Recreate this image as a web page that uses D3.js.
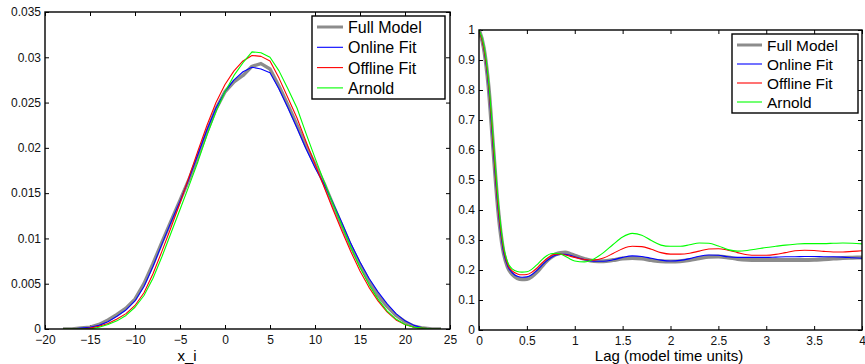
<!DOCTYPE html>
<html lang="en">
<head>
<meta charset="UTF-8">
<title>Density and autocorrelation</title>
<script src="https://d3js.org/d3.v7.min.js"></script>
<style>
  body { margin: 0; background: #fff; }
  svg { display: block; }
  svg text { font-family: "Liberation Sans", Arial, sans-serif; }
  .tick line { stroke: #000; stroke-width: 1; }
  .tick text { fill: #111; font-size: 12px; }
</style>
</head>
<body>
<div id="chart"></div>
<script>
// ---- data: left panel (density of x_i) ----
const xVals = [-18,-17,-16,-15,-14,-13,-12,-11,-10,-9,-8,-7,-6,-5,-4,-3,-2,-1,0,1,2,3,4,5,6,7,8,9,10,11,12,13,14,15,16,17,18,19,20,21,22,23,24];
const pdfFull    = [0,0,0.0001,0.0002,0.0005,0.0010,0.0016,0.0023,0.0033,0.0050,0.0072,0.0096,0.0119,0.0142,0.0165,0.0191,0.0218,0.0243,0.0262,0.0273,0.0280,0.0290,0.0293,0.0287,0.0268,0.0247,0.0225,0.0202,0.0182,0.0161,0.0137,0.0114,0.0091,0.0071,0.0053,0.0037,0.0025,0.0015,0.0008,0.0003,0.0001,0,0];
const pdfOnline  = [0,0,0.0001,0.0002,0.0004,0.0008,0.0014,0.0021,0.0031,0.0047,0.0069,0.0094,0.0118,0.0141,0.0166,0.0193,0.0220,0.0244,0.0262,0.0275,0.0284,0.0289,0.0287,0.0283,0.0265,0.0244,0.0222,0.0199,0.0178,0.0160,0.0139,0.0117,0.0094,0.0074,0.0056,0.0041,0.0028,0.0017,0.0009,0.0004,0.0001,0,0];
const pdfOffline = [0,0,0,0.0001,0.0003,0.0006,0.0011,0.0017,0.0026,0.0040,0.0061,0.0086,0.0112,0.0139,0.0168,0.0197,0.0225,0.0250,0.0270,0.0285,0.0296,0.0302,0.0301,0.0296,0.0277,0.0255,0.0233,0.0207,0.0182,0.0157,0.0132,0.0108,0.0085,0.0064,0.0046,0.0031,0.0019,0.0010,0.0005,0.0002,0.0001,0,0];
const pdfArnold  = [0,0,0,0,0.0002,0.0005,0.0009,0.0015,0.0024,0.0037,0.0056,0.0080,0.0106,0.0132,0.0158,0.0185,0.0214,0.0240,0.0262,0.0280,0.0294,0.0306,0.0305,0.0300,0.0285,0.0265,0.0244,0.0216,0.0189,0.0163,0.0138,0.0114,0.0090,0.0068,0.0049,0.0033,0.0020,0.0011,0.0005,0.0002,0.0001,0,0];
const xTicks = [-20,-15,-10,-5,0,5,10,15,20,25];
const pdfTicks = [0,0.005,0.01,0.015,0.02,0.025,0.03,0.035];

// ---- data: right panel (autocorrelation vs lag) ----
const lags = [0,0.05,0.1,0.15,0.2,0.25,0.3,0.35,0.4,0.45,0.5,0.55,0.6,0.65,0.7,0.75,0.8,0.85,0.9,0.95,1.0,1.1,1.2,1.3,1.4,1.5,1.6,1.7,1.8,1.9,2.0,2.1,2.2,2.3,2.4,2.5,2.6,2.7,2.8,2.9,3.0,3.1,3.2,3.3,3.4,3.5,3.6,3.7,3.8,3.9,4.0];
const acfFull    = [1,0.94,0.81,0.60,0.40,0.27,0.21,0.185,0.173,0.169,0.170,0.178,0.192,0.210,0.228,0.242,0.252,0.257,0.258,0.254,0.248,0.237,0.230,0.229,0.233,0.238,0.240,0.238,0.233,0.229,0.228,0.229,0.233,0.239,0.244,0.245,0.242,0.237,0.234,0.233,0.233,0.233,0.233,0.233,0.233,0.234,0.236,0.238,0.240,0.241,0.242];
const acfOnline  = [1,0.94,0.81,0.60,0.40,0.27,0.212,0.19,0.179,0.176,0.177,0.184,0.197,0.213,0.229,0.241,0.249,0.252,0.252,0.249,0.244,0.235,0.229,0.229,0.234,0.242,0.247,0.245,0.239,0.233,0.230,0.232,0.238,0.246,0.250,0.249,0.244,0.242,0.242,0.242,0.242,0.243,0.244,0.244,0.245,0.245,0.244,0.244,0.243,0.241,0.239];
const acfOffline = [1,0.94,0.82,0.61,0.41,0.28,0.218,0.196,0.187,0.184,0.185,0.192,0.205,0.221,0.236,0.247,0.253,0.253,0.250,0.246,0.242,0.235,0.233,0.240,0.255,0.271,0.279,0.278,0.269,0.258,0.253,0.253,0.256,0.263,0.270,0.271,0.266,0.258,0.251,0.249,0.249,0.252,0.258,0.264,0.266,0.265,0.262,0.260,0.260,0.262,0.264];
const acfArnold  = [1,0.95,0.83,0.63,0.43,0.29,0.225,0.203,0.195,0.193,0.194,0.202,0.216,0.232,0.246,0.254,0.256,0.253,0.246,0.237,0.230,0.227,0.237,0.258,0.285,0.310,0.322,0.316,0.298,0.283,0.279,0.279,0.284,0.290,0.289,0.280,0.268,0.263,0.265,0.270,0.275,0.279,0.283,0.286,0.288,0.288,0.288,0.289,0.290,0.289,0.287];
const lagTicks = [0,0.5,1,1.5,2,2.5,3,3.5,4];
const acfTicks = [0,0.1,0.2,0.3,0.4,0.5,0.6,0.7,0.8,0.9,1];

const names = ["Full Model", "Online Fit", "Offline Fit", "Arnold"];
const colors = ["#8c8c8c", "#0000ff", "#ff0000", "#00ff00"];
const widths = [3.5, 1.1, 1.1, 1.1];

const svg = d3.select("#chart").append("svg")
    .attr("width", 865)
    .attr("height", 364);

function drawPanel(opts) {
    const x = d3.scaleLinear().domain(opts.xDomain).range([opts.left, opts.right]);
    const y = d3.scaleLinear().domain(opts.yDomain).range([opts.bottom, opts.top]);
    const g = svg.append("g");

    g.append("rect")
        .attr("x", opts.left).attr("y", opts.top)
        .attr("width", opts.right - opts.left).attr("height", opts.bottom - opts.top)
        .attr("fill", "#fff");

    // ticks pointing inward on all four sides
    const tidy = a => a.attr("font-family", null).attr("font-size", null).select(".domain").remove();
    g.append("g").attr("transform", `translate(0,${opts.bottom})`)
        .call(d3.axisBottom(x).tickValues(opts.xTicks).tickFormat(opts.xFmt).tickSize(-4).tickPadding(6))
        .call(tidy);
    g.append("g").attr("transform", `translate(${opts.left},0)`)
        .call(d3.axisLeft(y).tickValues(opts.yTicks).tickFormat(opts.fmt).tickSize(-4).tickPadding(4))
        .call(tidy);
    g.append("g").attr("transform", `translate(0,${opts.top})`)
        .call(d3.axisTop(x).tickValues(opts.xTicks).tickFormat("").tickSize(-4))
        .call(tidy);
    g.append("g").attr("transform", `translate(${opts.right},0)`)
        .call(d3.axisRight(y).tickValues(opts.yTicks).tickFormat("").tickSize(-4))
        .call(tidy);

    const clipId = "clip" + opts.id;
    svg.append("clipPath").attr("id", clipId)
      .append("rect")
        .attr("x", opts.left).attr("y", opts.top - 2)
        .attr("width", opts.right - opts.left).attr("height", opts.bottom - opts.top + 2);

    const line = d3.line()
        .x((d, i) => x(opts.xs[i]))
        .y(d => y(d))
        .curve(opts.curve);

    opts.series.forEach((s, i) => {
        g.append("path")
            .datum(s)
            .attr("clip-path", `url(#${clipId})`)
            .attr("fill", "none")
            .attr("stroke", colors[i])
            .attr("stroke-width", widths[i] + (opts.id === "r" && i === 0 ? 0.5 : 0))
            .attr("stroke-linejoin", "round")
            .attr("d", line);
    });

    g.append("rect")
        .attr("x", opts.left).attr("y", opts.top)
        .attr("width", opts.right - opts.left).attr("height", opts.bottom - opts.top)
        .attr("fill", "none").attr("stroke", "#000").attr("stroke-width", 1.4);

    // legend
    const L = opts.legend;
    const lg = g.append("g");
    lg.append("rect")
        .attr("x", L.x).attr("y", L.y).attr("width", L.w).attr("height", L.h)
        .attr("fill", "#fff").attr("stroke", "#000").attr("stroke-width", 1.4);
    names.forEach((n, i) => {
        const yy = L.first + i * L.step;
        lg.append("line")
            .attr("x1", L.x + 5).attr("x2", L.x + 5 + L.len)
            .attr("y1", yy).attr("y2", yy)
            .attr("stroke", colors[i]).attr("stroke-width", i === 0 ? 3 : 1.1);
        lg.append("text")
            .attr("x", L.x + 10 + L.len).attr("y", yy + 6)
            .attr("font-size", L.font)
            .attr("fill", "#000")
            .text(n);
    });

    g.append("text")
        .attr("x", opts.label.x).attr("y", 361)
        .attr("text-anchor", "middle")
        .attr("font-size", 15)
        .attr("fill", "#000")
        .text(opts.label.text);
}

drawPanel({
    id: "l", left: 45, right: 450, top: 12, bottom: 329,
    xDomain: [-20, 25], yDomain: [0, 0.035],
    xTicks: xTicks, yTicks: pdfTicks,
    xFmt: d3.format("d"), fmt: d => d === 0 ? "0" : d3.format(".3~f")(d),
    xs: xVals, series: [pdfFull, pdfOnline, pdfOffline, pdfArnold],
    curve: d3.curveLinear,
    legend: {x: 312, y: 16, w: 133, h: 83, first: 27, step: 20.3, len: 26, font: 16},
    label: {x: 187, text: "x_i"}
});

drawPanel({
    id: "r", left: 479, right: 862, top: 30, bottom: 330,
    xDomain: [0, 4], yDomain: [0, 1],
    xTicks: lagTicks, yTicks: acfTicks,
    xFmt: d3.format("~g"), fmt: d3.format("~g"),
    xs: lags, series: [acfFull, acfOnline, acfOffline, acfArnold],
    curve: d3.curveMonotoneX,
    legend: {x: 732, y: 34, w: 126, h: 79, first: 45, step: 19, len: 25, font: 15.4},
    label: {x: 669, text: "Lag (model time units)"}
});
</script>
</body>
</html>
